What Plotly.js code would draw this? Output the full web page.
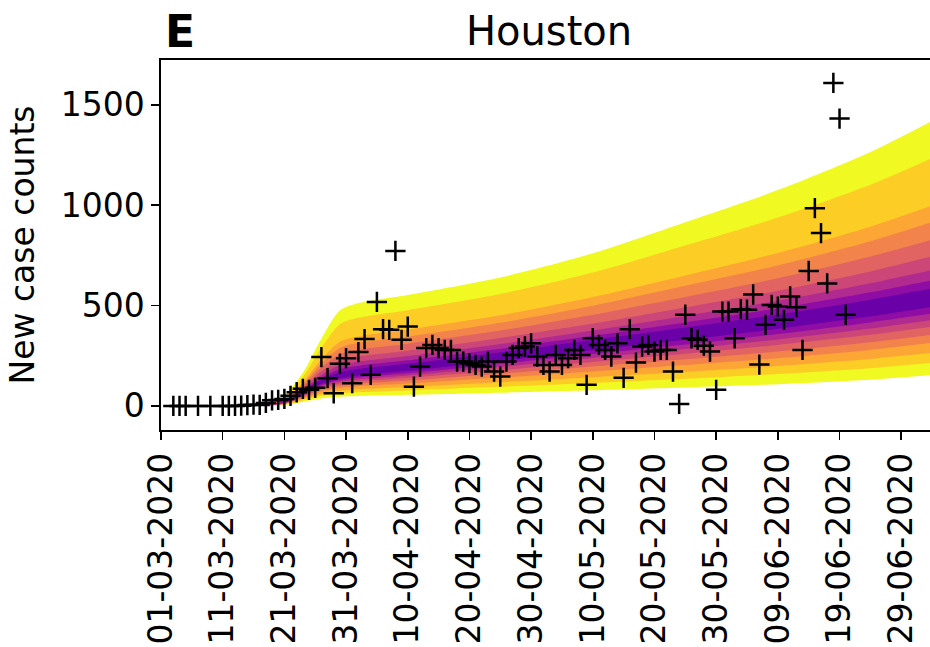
<!DOCTYPE html>
<html>
<head>
<meta charset="utf-8">
<script src="https://cdn.plot.ly/plotly-3.0.1.min.js"></script>
<style>html,body{margin:0;padding:0;background:#fff;overflow:hidden}#chart{width:930px;height:647px}</style>
</head>
<body>
<div id="chart"></div>
<script>
// Observed daily new case counts (Houston)
const obsDates = ['2020-03-03','2020-03-04','2020-03-05','2020-03-07','2020-03-09','2020-03-11','2020-03-12','2020-03-13','2020-03-14','2020-03-15','2020-03-16','2020-03-17','2020-03-18','2020-03-19','2020-03-20','2020-03-21','2020-03-22','2020-03-23','2020-03-24','2020-03-25','2020-03-26','2020-03-27','2020-03-28','2020-03-29','2020-03-30','2020-03-31','2020-04-01','2020-04-02','2020-04-03','2020-04-04','2020-04-05','2020-04-06','2020-04-07','2020-04-08','2020-04-09','2020-04-10','2020-04-11','2020-04-12','2020-04-13','2020-04-14','2020-04-15','2020-04-16','2020-04-17','2020-04-18','2020-04-19','2020-04-20','2020-04-21','2020-04-22','2020-04-23','2020-04-24','2020-04-25','2020-04-26','2020-04-27','2020-04-28','2020-04-29','2020-04-30','2020-05-01','2020-05-02','2020-05-03','2020-05-04','2020-05-05','2020-05-06','2020-05-07','2020-05-08','2020-05-09','2020-05-10','2020-05-11','2020-05-12','2020-05-13','2020-05-14','2020-05-15','2020-05-16','2020-05-17','2020-05-18','2020-05-19','2020-05-20','2020-05-21','2020-05-22','2020-05-23','2020-05-24','2020-05-25','2020-05-26','2020-05-27','2020-05-28','2020-05-29','2020-05-30','2020-05-31','2020-06-01','2020-06-02','2020-06-03','2020-06-04','2020-06-05','2020-06-06','2020-06-07','2020-06-08','2020-06-09','2020-06-10','2020-06-11','2020-06-12','2020-06-13','2020-06-14','2020-06-15','2020-06-16','2020-06-17','2020-06-18','2020-06-19','2020-06-20'];
const obsCounts = [0,0,0,0,0,0,0,0,1,4,6,5,15,28,30,35,50,68,85,80,90,243,138,63,210,238,113,268,333,155,518,382,379,772,329,395,96,196,288,304,288,279,279,221,221,213,204,196,221,171,146,221,254,288,296,312,246,204,171,254,204,238,279,254,105,337,304,279,246,312,140,382,216,296,304,271,279,279,171,10,454,337,329,300,271,80,470,470,337,482,479,555,206,404,503,495,429,545,492,279,672,985,861,610,1609,1431,454];

// Forecast quantile band boundaries (outermost u1/l1 to innermost u9/l9)
const bandDates = ['2020-03-12','2020-03-17','2020-03-21','2020-03-24','2020-03-27','2020-03-30','2020-04-02','2020-04-10','2020-04-25','2020-05-10','2020-05-25','2020-06-09','2020-06-24','2020-07-04'];
const u1 = [1, 12, 55, 165, 335, 475, 512, 553, 640, 760, 915, 1075, 1265, 1420];
const u2 = [0.8, 10.3, 47, 144, 290, 407, 439, 477, 557, 664, 799, 938, 1102, 1235];
const u3 = [0.5, 8.2, 37, 117, 232, 320, 346, 380, 451, 542, 650, 762, 893, 998];
const u4 = [0.4, 7.4, 34, 108, 212, 289, 314, 345, 414, 499, 598, 700, 820, 915];
const u5 = [0.3, 6.6, 30, 98, 191, 257, 280, 310, 375, 454, 543, 636, 744, 828];
const u6 = [0.2, 5.9, 27, 89, 171, 226, 247, 275, 338, 410, 490, 574, 670, 745];
const u7 = [0.2, 5.3, 24, 81, 154, 202, 220, 248, 308, 376, 448, 524, 611, 677];
const u8 = [0.1, 4.8, 22, 75, 142, 183, 200, 227, 285, 349, 416, 486, 566, 626];
const u9 = [0.1, 4.4, 20, 70, 132, 168, 184, 210, 266, 328, 390, 455, 529, 585];
const l9 = [0, 3.7, 16.4, 60, 111, 138, 152, 175, 224, 277, 329, 384, 446, 493];
const l8 = [0, 3.4, 15.2, 56, 103, 129, 142, 163, 209, 258, 306, 358, 416, 460];
const l7 = [0, 3.1, 14, 52, 96, 120, 132, 152, 194, 239, 284, 331, 385, 428];
const l6 = [0, 2.9, 12.8, 48, 89, 111, 122, 140, 178, 219, 260, 304, 354, 394];
const l5 = [0, 2.6, 11.3, 44, 80, 100, 110, 126, 160, 196, 232, 271, 317, 354];
const l4 = [0, 2.3, 9.9, 39, 72, 89, 98, 111, 141, 172, 204, 238, 279, 314];
const l3 = [0, 1.9, 8.1, 33, 61, 75, 83, 94, 118, 143, 170, 199, 234, 264];
const l2 = [0, 1.5, 6.3, 27, 50, 62, 68, 77, 95, 114, 135, 159, 188, 215];
const l1 = [0, 1, 4, 20, 37, 45, 49, 55, 66, 78, 92, 108, 130, 153];
const bandColors = ['#f0f921','#fcce25','#fca636','#f2844b','#e16462','#cc4778','#b12a90','#8f0da4','#6a00a8'];

// Axis ticks
const tickDates = ['2020-03-01','2020-03-11','2020-03-21','2020-03-31','2020-04-10','2020-04-20','2020-04-30','2020-05-10','2020-05-20','2020-05-30','2020-06-09','2020-06-19','2020-06-29'];
const tickLabels = ['01-03-2020','11-03-2020','21-03-2020','31-03-2020','10-04-2020','20-04-2020','30-04-2020','10-05-2020','20-05-2020','30-05-2020','09-06-2020','19-06-2020','29-06-2020'];
const yTicks = [0, 500, 1000, 1500];

const uppers = [u1,u2,u3,u4,u5,u6,u7,u8,u9];
const lowers = [l1,l2,l3,l4,l5,l6,l7,l8,l9];
const traces = [];
for (let k = 0; k < uppers.length; k++) {
  traces.push({
    type: 'scatter', mode: 'lines', x: bandDates, y: lowers[k],
    line: {width: 0, shape: 'spline', smoothing: 0.8, color: bandColors[k]},
    hoverinfo: 'skip', showlegend: false
  });
  traces.push({
    type: 'scatter', mode: 'lines', x: bandDates, y: uppers[k],
    fill: 'tonexty', fillcolor: bandColors[k],
    line: {width: 0, shape: 'spline', smoothing: 0.8, color: bandColors[k]},
    hoverinfo: 'skip', showlegend: false
  });
}
traces.push({
  type: 'scatter', mode: 'markers',
  x: obsDates, y: obsCounts,
  marker: {symbol: 'cross-thin', size: 14.5, color: 'black', line: {width: 2.5, color: 'black'}},
  showlegend: false
});

const FONT = 'DejaVu Sans, sans-serif';
const layout = {
  width: 930, height: 647,
  margin: {l: 161, r: 0, t: 60, b: 217, pad: 0},
  paper_bgcolor: '#fff', plot_bgcolor: '#fff',
  font: {family: FONT, color: '#000', size: 33},
  title: {text: 'Houston', font: {family: FONT, size: 40, color: '#000'},
          xref: 'paper', x: 0.5046, xanchor: 'center', yref: 'container', y: 0.952, yanchor: 'middle'},
  showlegend: false,
  xaxis: {
    type: 'date', range: ['2020-03-01', '2020-07-03 16:00'],
    tickmode: 'array', tickvals: tickDates, ticktext: tickLabels, tickangle: -90,
    ticks: 'outside', ticklen: 8, tickwidth: 1.6, tickcolor: '#000',
    showline: true, linecolor: '#000', linewidth: 1.6, mirror: true,
    showgrid: false, zeroline: false, automargin: false,
    tickfont: {family: FONT, size: 33, color: '#000'}
  },
  yaxis: {
    range: [-120, 1723],
    tickmode: 'array', tickvals: yTicks, ticktext: yTicks.map(String),
    ticks: 'outside', ticklen: 8, tickwidth: 1.6, tickcolor: '#000',
    showline: true, linecolor: '#000', linewidth: 1.6,
    showgrid: false, zeroline: false, automargin: false,
    tickfont: {family: FONT, size: 33, color: '#000'},
    title: {text: 'New case counts', font: {family: FONT, size: 33, color: '#000'}, standoff: 16}
  },
  annotations: [{
    text: '<b>E</b>', xref: 'paper', yref: 'paper', x: 0.003, y: 1.078,
    xanchor: 'left', yanchor: 'middle', showarrow: false,
    font: {family: FONT, size: 44, color: '#000'}
  }]
};
Plotly.newPlot('chart', traces, layout, {displayModeBar: false, staticPlot: true});
</script>
</body>
</html>
